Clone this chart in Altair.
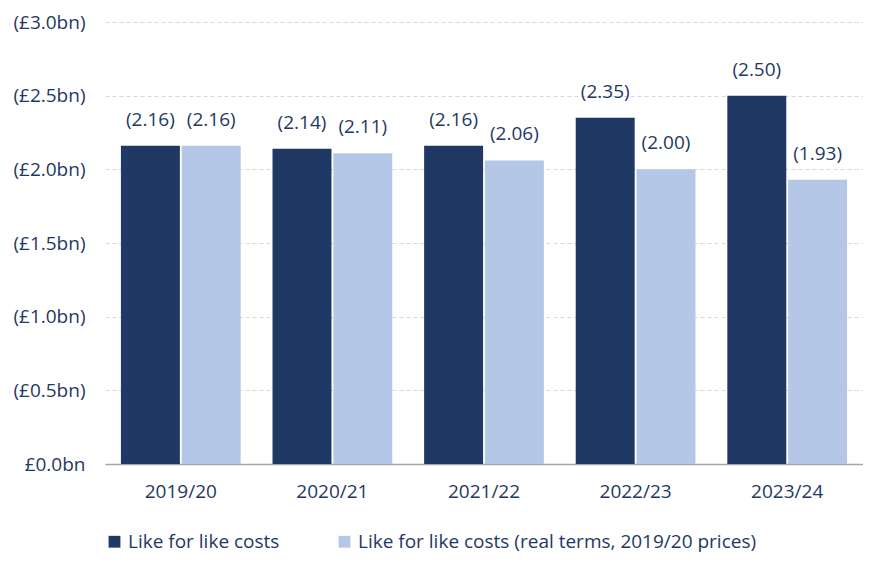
import altair as alt
import pandas as pd

years = ["2019/20", "2020/21", "2021/22", "2022/23", "2023/24"]
series = ["Like for like costs", "Like for like costs (real terms, 2019/20 prices)"]
nominal = [2.16, 2.14, 2.16, 2.35, 2.50]
real = [2.16, 2.11, 2.06, 2.00, 1.93]

rows = []
for y, a, b in zip(years, nominal, real):
    rows.append({"year": y, "series": series[0], "value": a})
    rows.append({"year": y, "series": series[1], "value": b})
df = pd.DataFrame(rows)

FONT = "Open Sans"
FS = 19
TXT = "#1f3864"

base = alt.Chart(df).encode(
    x=alt.X("year:N", sort=years, title=None,
            scale=alt.Scale(paddingInner=0.21, paddingOuter=0.105),
            axis=alt.Axis(labelAngle=0, labelFontSize=FS, labelColor=TXT, labelFont=FONT,
                          labelPadding=18, ticks=False, domainColor="#a6a6a6", domainWidth=1.5)),
    xOffset=alt.XOffset("series:N", sort=series, scale=alt.Scale(paddingInner=0.03)),
)

bars = base.mark_bar().encode(
    y=alt.Y("value:Q", title=None,
            scale=alt.Scale(domain=[0, 3]),
            axis=alt.Axis(values=[0, 0.5, 1, 1.5, 2, 2.5, 3],
                          labelExpr="datum.value == 0 ? '£0.0bn' : '(£' + format(datum.value, '.1f') + 'bn)'",
                          labelFontSize=FS, labelColor=TXT, labelFont=FONT, labelPadding=20,
                          ticks=False, domain=False, gridDash=[4, 3], gridColor="#d9d9d9")),
    color=alt.Color("series:N", sort=series,
                    scale=alt.Scale(domain=series, range=["#203864", "#b4c7e7"]),
                    legend=alt.Legend(orient="bottom", direction="horizontal", title=None,
                                      symbolType="square", symbolSize=140, labelFontSize=FS,
                                      labelFont=FONT, labelColor=TXT, columnPadding=55,
                                      labelLimit=0, offset=31, symbolStrokeWidth=0)),
)

labels = base.mark_text(dy=-26, fontSize=FS, font=FONT, color=TXT).encode(
    y="value:Q",
    text=alt.Text("lab:N"),
).transform_calculate(lab="'(' + format(datum.value, '.2f') + ')'")

chart = alt.layer(bars, labels).properties(
    width=758, height=442,
    autosize=alt.AutoSizeParams(type="none"),
    padding={"left": 97, "top": 14, "right": 0, "bottom": 91},
).configure_view(stroke=None).configure_axis(grid=True).configure_axisX(grid=False)

chart.save("out.html", embed_options={"renderer": "svg", "actions": False})
